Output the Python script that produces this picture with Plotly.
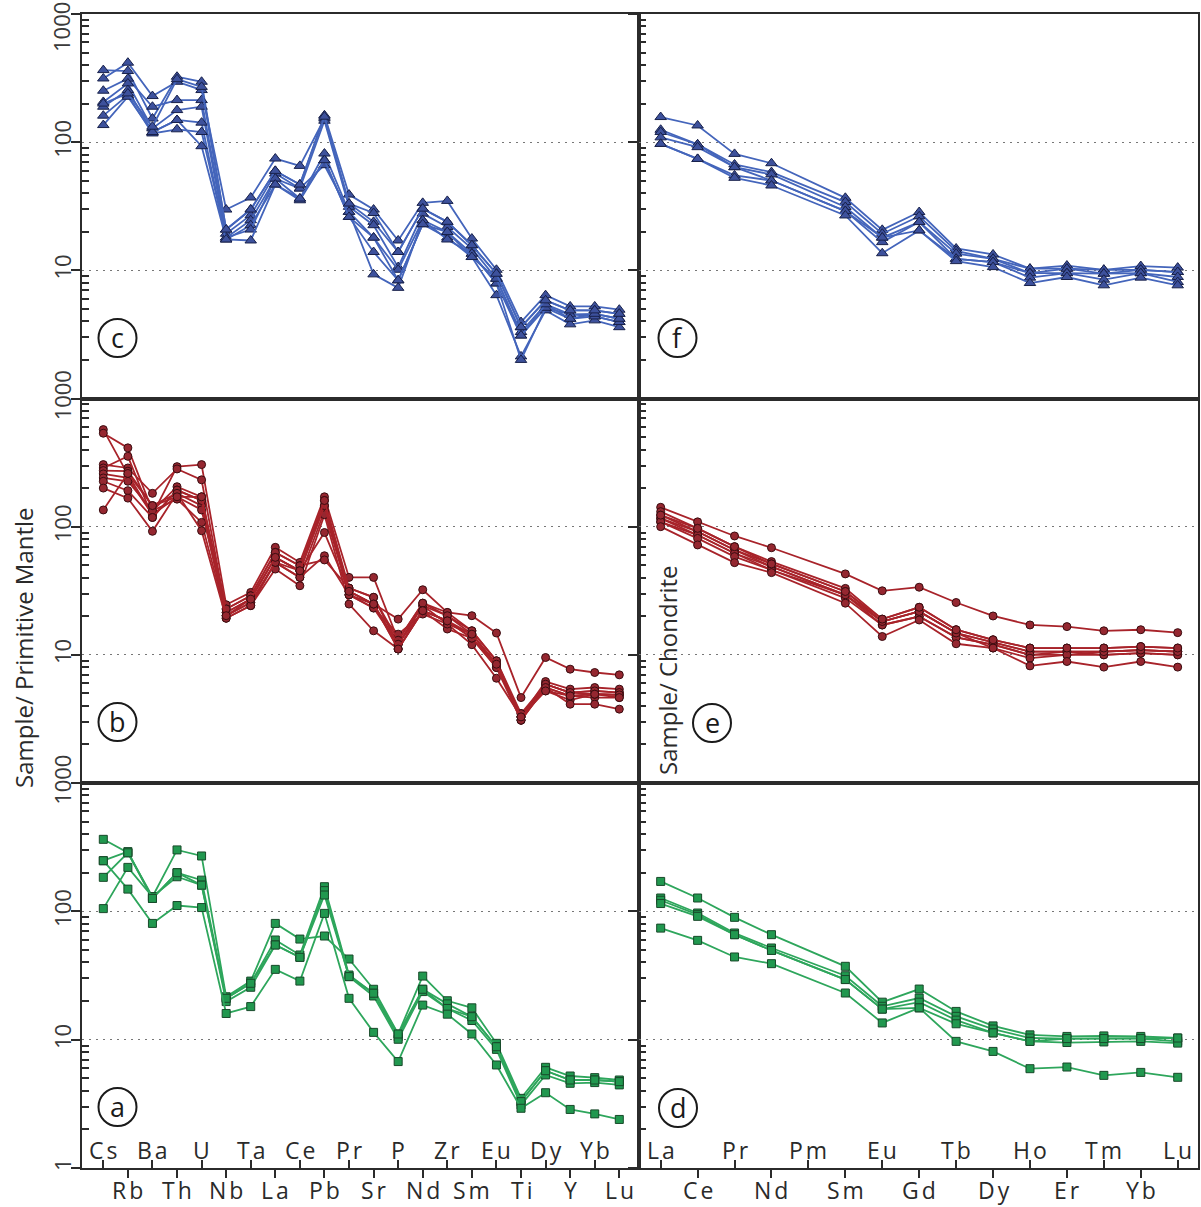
import plotly.graph_objects as go

W, H = 1201, 1207

# ---------------- data ----------------
pm_elements = ["Cs", "Rb", "Ba", "Th", "U", "Nb", "Ta", "La", "Ce", "Pb", "Pr",
               "Sr", "P", "Nd", "Zr", "Sm", "Eu", "Ti", "Dy", "Y", "Yb", "Lu"]
ree_elements = ["La", "Ce", "Pr", "Nd", "Pm", "Sm", "Eu", "Gd", "Tb", "Dy",
                "Ho", "Er", "Tm", "Yb", "Lu"]
ree_measured = [e for e in ree_elements if e != "Pm"]

# panel (c): primitive-mantle normalised, blue group
panel_c = [
    [365, 359, 153, 324, 296, 20.8, 29.8, 59.7, 46.7, 162, 39.0, 29.8, 17.1, 33.6, 34.8, 17.7, 10.1, 3.95, 6.4, 5.23, 5.23, 4.93],
    [314, 417, 229, 296, 255, 29.8, 37.0, 74.5, 65.3, 153, 33.2, 23.9, 13.9, 30.3, 23.9, 15.7, 9.4, 3.6, 5.83, 4.87, 4.87, 4.58],
    [252, 313, 189, 213, 213, 19.3, 26.9, 56.9, 43.5, 147, 31.3, 22.5, 10.6, 27.7, 21.8, 14.8, 8.6, 3.3, 5.43, 4.53, 4.58, 4.19],
    [206, 287, 128, 178, 189, 18.0, 24.6, 52.0, 36.3, 81.5, 28.6, 18.0, 10.1, 24.6, 19.9, 13.5, 7.9, 3.1, 5.1, 4.19, 4.37, 3.95],
    [189, 255, 120, 149, 142, 17.4, 22.5, 46.7, 35.2, 72.3, 26.1, 13.9, 8.36, 22.9, 18.0, 12.7, 6.4, 2.13, 4.87, 3.79, 4.07, 3.6],
    [161, 233, 117, 126, 120, 18.0, 20.8, 52.0, 43.5, 66.1, 28.6, 9.3, 7.3, 24.6, 17.4, 13.5, 7.9, 2.0, 5.1, 4.53, 4.37, 3.95],
    [136, 226, 120, 149, 93, 17.4, 17.1, 46.7, 36.3, 72.3, 26.1, 18.0, 8.36, 22.9, 19.9, 12.7, 8.6, 3.1, 5.43, 4.19, 4.58, 4.19],
    [200, 240, 132, 310, 270, 20.8, 29.8, 59.7, 46.7, 158, 33.2, 28.0, 13.9, 30.3, 23.9, 15.7, 9.4, 3.6, 5.83, 4.87, 4.87, 4.58],
]

# panel (b): primitive-mantle normalised, red group
panel_b = [
    [572, 255, 124, 294, 305, 24.6, 30.7, 69.0, 52.6, 171, 40.2, 40.2, 13.0, 25.3, 21.4, 15.4, 8.98, 3.28, 5.9, 5.08, 4.93, 4.87],
    [536, 412, 133, 205, 171, 22.8, 28.9, 63.0, 49.6, 160, 33.2, 28.1, 12.1, 24.2, 20.2, 14.5, 8.45, 3.09, 5.56, 4.78, 4.64, 4.64],
    [305, 287, 182, 282, 232, 21.4, 27.2, 57.6, 45.3, 146, 31.3, 24.9, 11.1, 22.1, 18.4, 13.5, 7.96, 3.48, 5.23, 4.43, 4.93, 4.87],
    [287, 354, 118, 193, 160, 20.2, 25.6, 52.6, 40.2, 133, 29.4, 23.2, 14.5, 20.8, 17.4, 12.0, 6.57, 3.28, 5.56, 4.12, 4.12, 3.77],
    [274, 271, 146, 182, 146, 19.3, 24.2, 46.7, 34.6, 124, 24.9, 15.4, 11.1, 22.1, 15.9, 13.5, 8.45, 3.09, 5.9, 5.08, 5.23, 5.08],
    [258, 240, 124, 171, 135, 21.4, 27.2, 57.6, 45.3, 90, 31.3, 24.9, 19.0, 32.2, 21.4, 20.2, 14.8, 4.64, 9.53, 7.73, 7.28, 6.98],
    [240, 226, 133, 164, 108, 20.2, 25.6, 52.6, 40.2, 59.3, 29.4, 23.2, 12.1, 24.2, 17.4, 14.5, 8.45, 3.28, 6.19, 5.4, 5.56, 5.4],
    [226, 191, 118, 193, 160, 22.8, 28.9, 63.0, 49.6, 55.0, 33.2, 28.1, 13.0, 25.3, 20.2, 15.4, 8.98, 3.48, 5.9, 5.08, 5.23, 5.08],
    [200, 167, 92, 182, 93, 19.3, 24.2, 52.6, 45.3, 146, 29.4, 24.9, 12.1, 22.1, 18.4, 13.5, 7.96, 3.09, 5.56, 4.78, 4.93, 4.87],
    [135, 260, 146, 171, 171, 20.2, 27.2, 57.6, 45.3, 160, 31.3, 24.9, 11.1, 22.1, 18.4, 14.5, 8.45, 3.28, 5.23, 4.78, 4.93, 4.64],
]

# panel (a): primitive-mantle normalised, green group
panel_a = [
    [364, 286, 130, 301, 270, 21.6, 28.6, 80.5, 60.8, 64.2, 42.5, 24.7, 11.07, 31.3, 20.1, 17.7, 9.36, 3.49, 6.09, 5.21, 5.06, 4.85],
    [248, 292, 126, 200, 175, 21.0, 27.5, 59.8, 45.7, 155.6, 31.9, 23.0, 10.55, 24.7, 19.0, 15.1, 8.81, 3.29, 5.73, 4.85, 4.85, 4.71],
    [105, 220, 130, 186, 160, 19.8, 25.6, 54.7, 43.8, 145, 31.0, 21.9, 10.07, 23.7, 17.5, 14.1, 8.4, 3.10, 5.31, 4.57, 4.63, 4.44],
    [184, 286, 126, 200, 160, 21.0, 27.5, 54.7, 43.8, 134, 31.0, 23.0, 11.07, 24.7, 17.5, 15.1, 8.81, 3.29, 5.73, 4.85, 4.85, 4.71],
    [248, 149, 80.5, 111, 107, 16.0, 18.1, 35.3, 28.6, 96.4, 21.0, 11.4, 6.75, 18.6, 15.8, 11.07, 6.35, 2.92, 3.86, 2.86, 2.64, 2.39],
]

# panel (f): chondrite normalised REE, blue group (La..Lu without Pm)
panel_f = [
    [157, 135, 81.0, 68.5, 36.8, 20.7, 28.5, 14.8, 13.3, 10.3, 10.9, 10.1, 10.8, 10.5],
    [125, 96, 67.0, 58.4, 34.1, 19.3, 26.4, 14.2, 12.3, 10.3, 10.3, 10.1, 10.1, 9.7],
    [120, 96, 63.8, 56.0, 31.2, 18.0, 23.8, 13.5, 12.3, 9.5, 10.3, 9.42, 10.1, 9.7],
    [109, 91.4, 63.8, 50.2, 29.0, 16.6, 23.8, 12.3, 11.6, 9.5, 9.5, 9.42, 9.5, 8.87],
    [97, 74, 55.0, 50.2, 29.0, 18.0, 20.5, 12.3, 11.6, 8.77, 9.5, 8.45, 9.5, 8.11],
    [97, 74, 52.7, 45.9, 26.8, 13.6, 20.5, 11.8, 10.6, 7.96, 8.87, 7.64, 8.77, 7.64],
]

# panel (e): chondrite normalised REE, red group
panel_e = [
    [141.6, 109, 84.6, 68.5, 42.8, 31.6, 33.7, 25.6, 20.1, 17.1, 16.6, 15.4, 15.7, 14.9],
    [131, 97, 69.8, 53.4, 33.0, 19.0, 23.5, 15.7, 13.1, 11.3, 11.3, 11.3, 11.6, 11.3],
    [123, 91.4, 65.8, 51.2, 31.2, 18.2, 21.8, 14.8, 12.5, 10.6, 10.6, 10.6, 10.9, 10.6],
    [116, 91.4, 65.8, 48.8, 29.4, 18.2, 21.8, 14.8, 12.5, 10.6, 10.6, 10.6, 10.9, 10.6],
    [116, 86, 62.0, 48.8, 29.4, 17.1, 19.9, 13.7, 12.0, 10.0, 10.6, 10.0, 10.3, 10.0],
    [109, 86, 62.0, 45.9, 27.7, 17.1, 19.9, 13.7, 12.0, 10.0, 10.0, 10.0, 10.3, 10.0],
    [109, 81, 58.4, 45.9, 29.4, 18.2, 21.8, 14.8, 11.3, 9.42, 10.0, 10.6, 10.9, 10.6],
    [100, 72, 52.4, 43.8, 25.3, 13.9, 18.7, 12.2, 11.3, 8.2, 8.87, 8.02, 8.87, 8.02],
    [123, 97, 69.8, 51.2, 31.2, 19.0, 23.5, 15.7, 13.1, 11.3, 11.3, 11.3, 11.6, 11.3],
]

# panel (d): chondrite normalised REE, green group
panel_d = [
    [171, 127, 89.8, 65.8, 37.3, 19.6, 24.8, 16.6, 12.8, 10.9, 10.6, 10.7, 10.6, 10.3],
    [127, 97, 67.8, 51.8, 31.5, 18.2, 21.1, 15.2, 12.1, 10.3, 10.2, 10.2, 10.2, 9.7],
    [122, 94.2, 65.8, 49.6, 29.4, 17.3, 19.6, 14.2, 11.3, 9.7, 9.5, 9.6, 9.7, 9.4],
    [115, 91.4, 65.8, 49.6, 29.4, 17.3, 17.7, 13.3, 11.3, 9.7, 10.2, 10.2, 10.2, 10.3],
    [74, 59.4, 44.1, 39.1, 23.1, 13.5, 17.7, 9.7, 8.1, 5.94, 6.12, 5.27, 5.56, 5.09],
]

y_major = [1, 10, 100, 1000]
y_minor = [m * d for d in (1, 10, 100) for m in range(2, 10)]

# ---------------- styles ----------------
styles = {
    "blue": dict(line="#4465bb", fill="#3d519c", edge="#18214a", symbol="triangle-up", size=10),
    "red": dict(line="#a8232a", fill="#952730", edge="#3a0c10", symbol="circle", size=8),
    "green": dict(line="#2ea65c", fill="#21984f", edge="#184a2a", symbol="square", size=8),
}

# pixel geometry
LX0, LX1 = 82.3, 639.3
RX0, RX1 = 639.3, 1197.5
ROWS = [(14.0, 398.5), (398.5, 783.0), (783.0, 1168.0)]
left_range = [-0.855, 21.814]
right_range = [-0.579, 14.536]

TICKFONT = dict(family="Open Sans", size=22, color="#3a3a3a")


def px_x(p):
    return p / W


def px_y(p):
    return 1 - p / H


fig = go.Figure()

panels = [
    (1, panel_c, pm_elements, "blue", 0, 0, "c"),
    (2, panel_f, ree_measured, "blue", 0, 1, "f"),
    (3, panel_b, pm_elements, "red", 1, 0, "b"),
    (4, panel_e, ree_measured, "red", 1, 1, "e"),
    (5, panel_a, pm_elements, "green", 2, 0, "a"),
    (6, panel_d, ree_measured, "green", 2, 1, "d"),
]

AX = "#2b2b2b"
layout_axes = {}
for idx, data, elems, sty, row, col, letter in panels:
    st = styles[sty]
    cats = pm_elements if col == 0 else ree_elements
    xs = [cats.index(e) for e in elems]
    for sample in data:
        fig.add_trace(go.Scatter(
            x=xs, y=sample, mode="lines+markers",
            line=dict(color=st["line"], width=1.8),
            marker=dict(symbol=st["symbol"], size=st["size"], color=st["fill"],
                        line=dict(color=st["edge"], width=1)),
            xaxis=f"x{idx}", yaxis=f"y{idx}", showlegend=False, hoverinfo="skip",
        ))

    x0, x1 = (LX0, LX1) if col == 0 else (RX0, RX1)
    ytop, ybot = ROWS[row]
    xdom = [px_x(x0), px_x(x1)]
    ydom = [px_y(ybot), px_y(ytop)]
    bottom = row == 2
    n = len(cats)
    xa = dict(domain=xdom, anchor=f"y{idx}", range=left_range if col == 0 else right_range,
              showline=True, linecolor=AX, linewidth=2, mirror=True,
              showgrid=False, zeroline=False, showticklabels=False)
    if bottom:
        xa.update(tickmode="array", tickvals=list(range(0, n, 2)), ticks="inside",
                  ticklen=8, tickwidth=1.5, tickcolor=AX,
                  minor=dict(tickmode="array", tickvals=list(range(1, n, 2)),
                             ticks="outside", ticklen=8, tickwidth=1.5, tickcolor=AX,
                             showgrid=False))
    else:
        xa.update(ticks="")
    tv = y_major if bottom else y_major[1:]
    tt = [str(v) for v in tv]
    if row == 0:
        tt[-1] = ""  # top label is placed separately so it stays inside the page
    ya = dict(domain=ydom, anchor=f"x{idx}", type="log", range=[0, 3],
              showline=True, linecolor=AX, linewidth=2, mirror=True,
              tickmode="array", tickvals=tv, ticktext=tt,
              ticks="outside", ticklen=9, tickwidth=1.5, tickcolor=AX,
              showticklabels=(col == 0), tickangle=-90, ticklabelstandoff=-8,
              tickfont=TICKFONT,
              showgrid=True, gridcolor="#777777", gridwidth=1.3, griddash="2px,5px",
              zeroline=False,
              minor=dict(tickmode="array", tickvals=y_minor, ticks="inside",
                         ticklen=7, tickwidth=1.5, tickcolor=AX, showgrid=False))
    layout_axes[f"xaxis{idx}"] = xa
    layout_axes[f"yaxis{idx}"] = ya
    # overlay axis providing the inner part of the major ticks
    layout_axes[f"yaxis{idx + 6}"] = dict(
        overlaying=f"y{idx}", anchor=f"x{idx}", type="log", range=[0, 3], side="left",
        tickmode="array", tickvals=[10, 100], ticks="inside", ticklen=7, tickwidth=1.5,
        tickcolor=AX, showticklabels=False, showgrid=False, showline=False, zeroline=False)

fig.update_layout(**layout_axes)

# panel letters in circles
circle_pos = {"c": (117.5, 338), "f": (677.5, 338), "b": (117.5, 722),
              "e": (712, 723), "a": (117.5, 1107), "d": (678, 1108)}
shapes = []
annotations = []
for letter, (cx, cy) in circle_pos.items():
    shapes.append(dict(type="circle", xref="paper", yref="paper", xsizemode="pixel",
                       ysizemode="pixel", xanchor=px_x(cx), yanchor=px_y(cy),
                       x0=-19, x1=19, y0=-19, y1=19, line=dict(color="#1a1a1a", width=2)))
    annotations.append(dict(x=px_x(cx), y=px_y(cy - 1), xref="paper", yref="paper",
                            text=letter, showarrow=False, xanchor="center", yanchor="middle",
                            font=dict(family="Open Sans", size=27, color="#1a1a1a")))

# top "1000" label of panel (c), shifted down to stay on the page
annotations.append(dict(x=px_x(61), y=px_y(27), xref="paper", yref="paper",
                        text="1000", textangle=-90, showarrow=False,
                        xanchor="center", yanchor="middle", font=TICKFONT))

# alternating element labels on the bottom panels
for ax_idx, cats in ((5, pm_elements), (6, ree_elements)):
    for i, name in enumerate(cats):
        ypix = 1150 if i % 2 == 0 else 1190
        annotations.append(dict(x=i, y=px_y(ypix), xref=f"x{ax_idx}", yref="paper",
                                text=f'<span style="letter-spacing:3px">{name}</span>',
                                showarrow=False, xanchor="center", yanchor="middle", xshift=1.5,
                                font=dict(family="Open Sans", size=23, color="#2a2a2a")))

# axis titles
annotations.append(dict(x=px_x(23), y=px_y(648), xref="paper", yref="paper",
                        text="Sample/ Primitive Mantle", textangle=-90, showarrow=False,
                        xanchor="center", yanchor="middle",
                        font=dict(family="Open Sans", size=24, color="#2a2a2a")))
annotations.append(dict(x=px_x(667), y=px_y(670), xref="paper", yref="paper",
                        text="Sample/ Chondrite", textangle=-90, showarrow=False,
                        xanchor="center", yanchor="middle",
                        font=dict(family="Open Sans", size=24, color="#2a2a2a")))

fig.update_layout(
    width=W, height=H, margin=dict(l=0, r=0, t=0, b=0),
    paper_bgcolor="white", plot_bgcolor="white",
    template="none", showlegend=False,
    shapes=shapes, annotations=annotations,
)

fig.write_html("out.html", config={"displayModeBar": False},
               post_script="document.body.style.margin='0';document.body.style.overflow='hidden';")
